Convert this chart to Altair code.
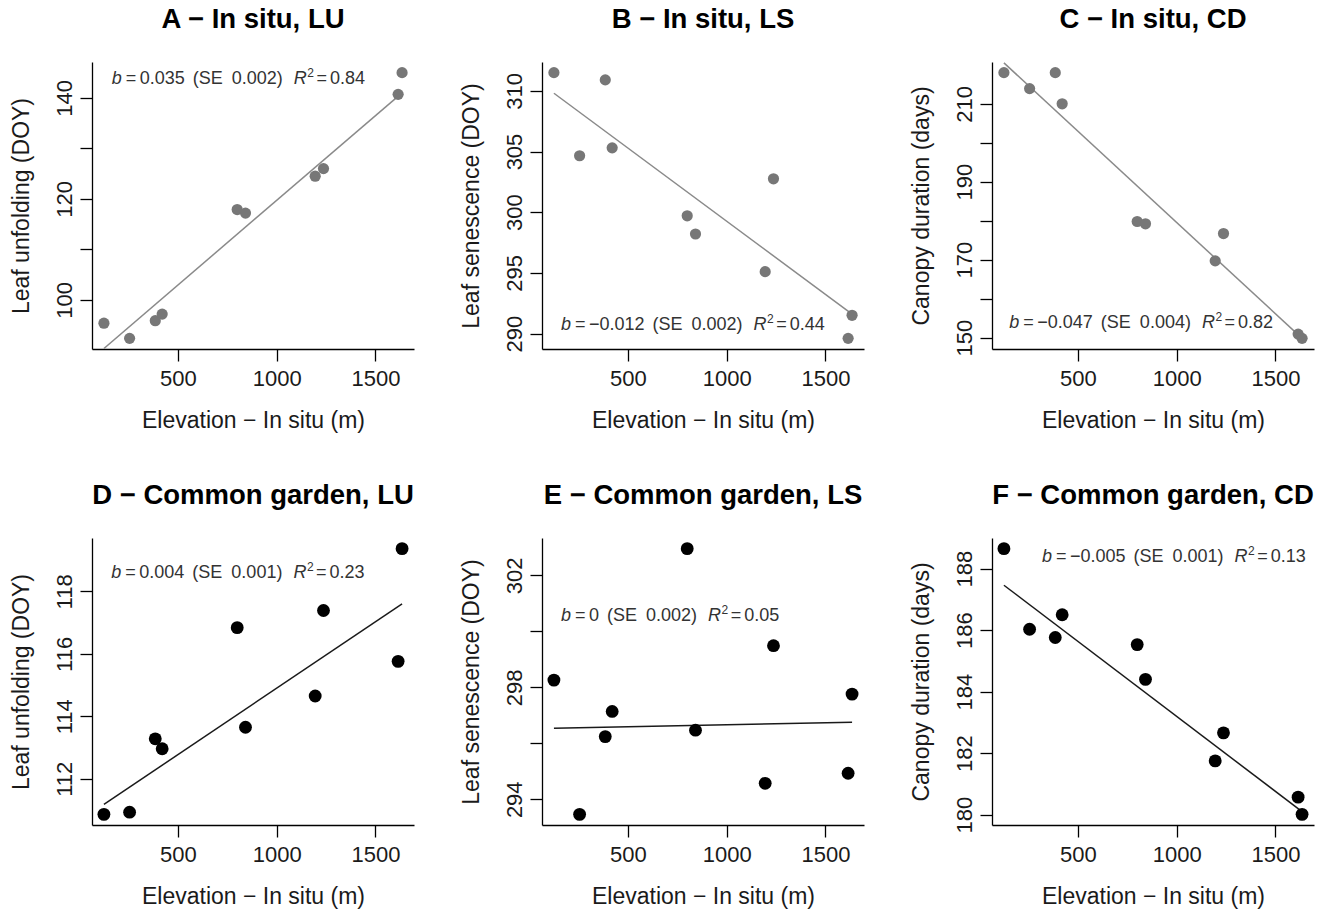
import altair as alt
import pandas as pd

# ---------------- data ----------------
elevation = [125, 255, 385, 420, 800, 842, 1195, 1237, 1615, 1635]

lu_insitu = [95.4, 92.4, 95.9, 97.2, 117.9, 117.2, 124.5, 126.0, 140.7, 145.0]
ls_insitu = [311.5, 304.65, 310.9, 305.3, 299.7, 298.2, 295.1, 302.75, 289.6, 291.5]
cd_insitu = [218.0, 213.9, 218.0, 210.0, 179.8, 179.2, 169.7, 176.7, 150.9, 149.8]
lu_garden = [110.86, 110.93, 113.28, 112.96, 116.84, 113.65, 114.65, 117.39, 115.76, 119.37]
ls_garden = [298.26, 293.46, 296.24, 297.14, 302.96, 296.47, 294.57, 299.49, 294.93, 297.76]
cd_garden = [188.65, 186.03, 185.76, 186.50, 185.53, 184.40, 181.75, 182.66, 180.57, 180.01]

panel_values = [lu_insitu, ls_insitu, cd_insitu, lu_garden, ls_garden, cd_garden]

# fitted regression line, value at min and max elevation
fit_start = [90.4, 309.8, 220.5, 111.18, 296.54, 187.46]
fit_end = [141.0, 291.6, 149.8, 117.6, 296.75, 180.1]

panel_titles = ["A − In situ, LU", "B − In situ, LS", "C − In situ, CD",
                "D − Common garden, LU", "E − Common garden, LS", "F − Common garden, CD"]
y_titles = ["Leaf unfolding (DOY)", "Leaf senescence (DOY)", "Canopy duration (days)",
            "Leaf unfolding (DOY)", "Leaf senescence (DOY)", "Canopy duration (days)"]
x_title = "Elevation − In situ (m)"

slope_text = ["0.035", "−0.012", "−0.047", "0.004", "0", "−0.005"]
se_text = ["0.002", "0.002", "0.004", "0.001", "0.002", "0.001"]
r2_text = ["0.84", "0.44", "0.82", "0.23", "0.05", "0.13"]

x_ticks = [500, 1000, 1500]
y_ticks = [[100, 110, 120, 130, 140], [290, 295, 300, 305, 310],
           [150, 160, 170, 180, 190, 200, 210], [112, 114, 116, 118],
           [294, 296, 298, 300, 302], [180, 182, 184, 186, 188]]
y_tick_labels = [[100, 120, 140], [290, 295, 300, 305, 310], [150, 170, 190, 210],
                 [112, 114, 116, 118], [294, 298, 302], [180, 182, 184, 186, 188]]

# ---------------- styling ----------------
W_PLOT, H_PLOT = 322, 287
FONT = "Liberation Sans"
point_colors = ["#777777"] * 3 + ["#000000"] * 3
line_colors = ["#8a8a8a"] * 3 + ["#1a1a1a"] * 3
point_sizes = [125] * 3 + [165] * 3
# annotation anchor (left x, baseline y) inside each plot area, pixels
annot_pos = [(19.7, 21.7), (19, 268), (17.3, 266), (19.3, 40.2), (19, 82.5), (50, 23.5)]
ANN_FS = 18
ANN_COLOR = "#333333"

EM = {' ': .278, '=': .584, '−': .584, '.': .278, '(': .333, ')': .333,
      'S': .667, 'E': .667, 'R': .722, 'b': .556}


def tw(s, fs):
    return sum(EM.get(c, .556) for c in s) * fs


def annotation_tokens(b, se, r2):
    toks = []
    x = 0.0
    seq = [("b", "italic", ANN_FS, 0, 4), ("=", "normal", ANN_FS, 0, 3.5),
           (b, "normal", ANN_FS, 0, 8), ("(SE", "normal", ANN_FS, 0, 9),
           (se + ")", "normal", ANN_FS, 0, 11), ("R", "italic", ANN_FS, 0, 0.5),
           ("2", "normal", 12, -7, 2.5), ("=", "normal", ANN_FS, 0, 3),
           (r2, "normal", ANN_FS, 0, 0)]
    for text, style, fs, dy, gap in seq:
        toks.append((text, x, style, fs, dy))
        x += tw(text, fs) + gap
    return toks


x_dom = [min(elevation) - 0.04 * (max(elevation) - min(elevation)),
         max(elevation) + 0.04 * (max(elevation) - min(elevation))]


def panel(i):
    vals = panel_values[i]
    lo, hi = min(vals), max(vals)
    rng = hi - lo
    y_dom = [lo - 0.04 * rng, hi + 0.04 * rng]
    pts = pd.DataFrame({"elev": elevation, "val": vals})
    fit = pd.DataFrame({"elev": [min(elevation), max(elevation)],
                        "val": [fit_start[i], fit_end[i]]})
    lab_list = ",".join(str(v) for v in y_tick_labels[i])
    x_enc = alt.X("elev:Q", scale=alt.Scale(domain=x_dom, nice=False, zero=False),
                  axis=alt.Axis(values=x_ticks, title=x_title, labelAngle=0, format="d",
                                labelPadding=7, titleX=161, titleY=78,
                                titleAlign="center", titleBaseline="alphabetic"))
    y_enc = alt.Y("val:Q", scale=alt.Scale(domain=y_dom, nice=False, zero=False),
                  axis=alt.Axis(values=y_ticks[i], title=y_titles[i], format="d",
                                labelExpr=f"indexof([{lab_list}], datum.value) >= 0 ? datum.label : ''",
                                labelAngle=270, labelAlign="center",
                                labelBaseline="alphabetic", labelPadding=9,
                                titleAngle=270, titleX=-71, titleY=H_PLOT / 2,
                                titleAlign="center", titleBaseline="middle"))
    line = alt.Chart(fit).mark_line(color=line_colors[i], strokeWidth=1.5, clip=True).encode(
        x=x_enc, y=y_enc)
    points = alt.Chart(pts).mark_circle(color=point_colors[i], opacity=1,
                                        size=point_sizes[i]).encode(x="elev:Q", y="val:Q")
    layers = [line, points]
    ax, ay = annot_pos[i]
    for text, dx, style, fs, dy in annotation_tokens(slope_text[i], se_text[i], r2_text[i]):
        layers.append(
            alt.Chart(alt.Data(values=[{"k": 0}])).mark_text(
                font=FONT, fontSize=fs, fontStyle=style, color=ANN_COLOR,
                align="left", baseline="alphabetic"
            ).encode(x=alt.value(ax + dx), y=alt.value(ay + dy), text=alt.value(text))
        )
    return alt.layer(*layers).properties(
        width=W_PLOT, height=H_PLOT,
        title=alt.TitleParams(panel_titles[i], font=FONT, fontSize=27.5, fontWeight="bold",
                              color="#000000", anchor="middle", baseline="alphabetic",
                              offset=7, frame="group"),
    )


chart = alt.concat(*[panel(i) for i in range(6)], columns=3,
                   spacing={"row": 189, "column": 128}, bounds="flush").properties(
    padding={"left": 10, "top": 5, "right": 5, "bottom": 5},
    background="white",
).configure_view(stroke=None).configure_axis(
    grid=False, domainColor="#000000", domainWidth=1.3, tickColor="#000000",
    tickWidth=1.3, tickSize=12, labelFont=FONT, labelFontSize=22, labelColor="#1a1a1a",
    titleFont=FONT, titleFontSize=23, titleFontWeight="normal", titleColor="#1a1a1a",
    labelOverlap=False, labelFlush=False,
)

chart.save("out.html", embed_options={"renderer": "svg", "actions": False})
